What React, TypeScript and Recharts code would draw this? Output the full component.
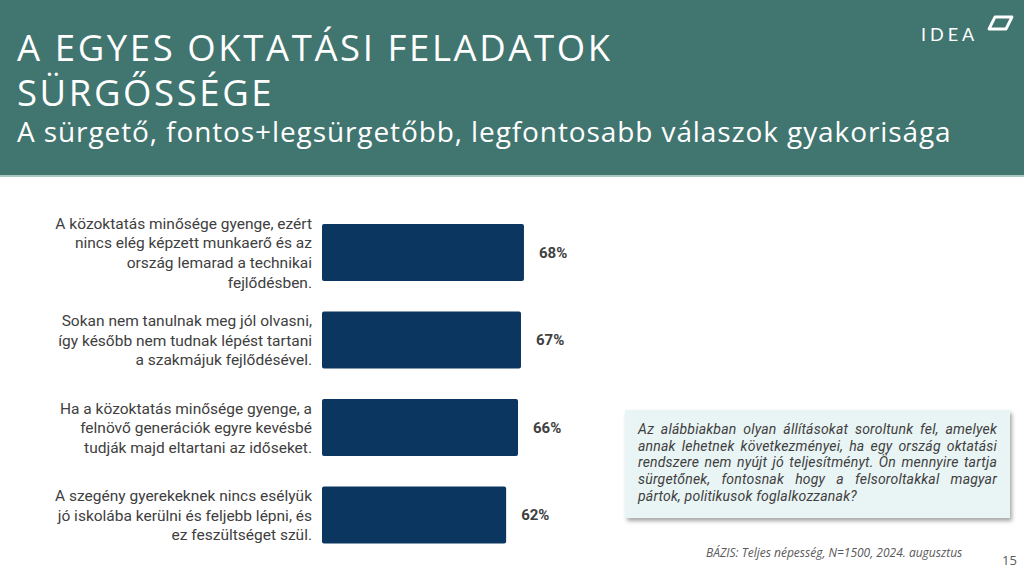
import React from 'react';
import { BarChart, Bar, XAxis, YAxis, LabelList } from 'recharts';

const categories = [
  'A közoktatás minősége gyenge, ezért\nnincs elég képzett munkaerő és az\nország lemarad a technikai\nfejlődésben.',
  'Sokan nem tanulnak meg jól olvasni,\nígy később nem tudnak lépést tartani\na szakmájuk fejlődésével.',
  'Ha a közoktatás minősége gyenge, a\nfelnövő generációk egyre kevésbé\ntudják majd eltartani az időseket.',
  'A szegény gyerekeknek nincs esélyük\njó iskolába kerülni és feljebb lépni, és\nez feszültséget szül.',
];
const values = [68, 67, 66, 62];

const TITLE_LINES = ['A EGYES OKTATÁSI FELADATOK', 'SÜRGŐSSÉGE'];
const SUBTITLE = 'A sürgető, fontos+legsürgetőbb, legfontosabb válaszok gyakorisága';
const QUESTION =
  'Az alábbiakban olyan állításokat soroltunk fel, amelyek annak lehetnek következményei, ha egy ország oktatási rendszere nem nyújt jó teljesítményt. Ön mennyire tartja sürgetőnek, fontosnak hogy a felsoroltakkal magyar pártok, politikusok foglalkozzanak?';
const SOURCE = 'BÁZIS: Teljes népesség, N=1500, 2024. augusztus';
const PAGE = '15';

const data = categories.map((c, i) => ({ name: c, value: values[i] }));

const TEAL = '#41756f';
const NAVY = '#0b365f';
const TEXT = '#404040';

function MultiLineTick(props: any) {
  const { x, y, payload } = props;
  const lines: string[] = String(payload.value).split('\n');
  const lh = 19.7;
  const start = -((lines.length - 1) * lh) / 2;
  return (
    <text
      x={x}
      y={y}
      textAnchor="end"
      fill={TEXT}
      fontSize={15.5}
      fontFamily="Roboto, sans-serif"
    >
      {lines.map((l, i) => (
        <tspan key={i} x={x} dy={i === 0 ? start + 5.5 : lh}>
          {l}
        </tspan>
      ))}
    </text>
  );
}

export default function App() {
  return (
    <div
      style={{
        position: 'fixed',
        left: 0,
        top: 0,
        width: 1024,
        height: 576,
        background: '#ffffff',
        overflow: 'hidden',
        fontFamily: '"Open Sans", sans-serif',
      }}
    >
      {/* header band */}
      <div
        style={{
          position: 'absolute',
          left: 0,
          top: 0,
          width: 1024,
          height: 175,
          background: TEAL,
          borderBottom: '2px solid #a9c8c4',
        }}
      />
      {TITLE_LINES.map((t, i) => (
        <div
          key={t}
          style={{
            position: 'absolute',
            left: 17,
            top: 27 + i * 45,
            color: '#ffffff',
            fontSize: 36.5,
            lineHeight: '40px',
            height: 40,
            letterSpacing: 2.6,
            fontWeight: 400,
            whiteSpace: 'nowrap',
          }}
        >
          {t}
        </div>
      ))}
      <div
        style={{
          position: 'absolute',
          left: 17,
          top: 111,
          color: '#ffffff',
          fontSize: 28,
          lineHeight: '40px',
          letterSpacing: 0.9,
          whiteSpace: 'nowrap',
        }}
      >
        {SUBTITLE}
      </div>

      {/* logo */}
      <div
        style={{
          position: 'absolute',
          left: 921,
          top: 22,
          color: '#ffffff',
          fontSize: 18,
          lineHeight: '24px',
          letterSpacing: 4,
          fontWeight: 400,
          fontFamily: 'Lato, sans-serif',
        }}
      >
        IDEA
      </div>
      <svg style={{ position: 'absolute', left: 984, top: 14 }} width={32} height={20}>
        <path
          d="M11 3 L28 3 L22 15 L5 15 Z"
          fill="none"
          stroke="#ffffff"
          strokeWidth={2.8}
          strokeLinejoin="round"
        />
      </svg>

      {/* chart */}
      <div style={{ position: 'absolute', left: 0, top: 0 }}>
        <BarChart
          width={700}
          height={576}
          data={data}
          layout="vertical"
          margin={{ top: 209, right: 81, bottom: 17, left: 0 }}
          barSize={57}
        >
          <XAxis type="number" domain={[0, 100]} hide />
          <YAxis
            type="category"
            dataKey="name"
            width={322}
            axisLine={false}
            tickLine={false}
            tickSize={0}
            tickMargin={10}
            tick={<MultiLineTick />}
            interval={0}
          />
          <Bar dataKey="value" fill={NAVY} radius={2} isAnimationActive={false}>
            <LabelList
              dataKey="value"
              position="right"
              offset={15}
              formatter={(v: any) => `${v}%`}
              fill={TEXT}
              fontSize={15}
              fontWeight={700}
              fontFamily="Roboto, sans-serif"
            />
          </Bar>
        </BarChart>
      </div>

      {/* question box */}
      <div
        style={{
          position: 'absolute',
          left: 625,
          top: 410,
          width: 385,
          height: 108,
          boxSizing: 'border-box',
          background: '#e9f4f4',
          boxShadow: '2px 3px 4px rgba(0,0,0,0.35)',
          padding: '11px 13px 0 13px',
          fontFamily: 'Roboto, sans-serif',
          fontStyle: 'italic',
          fontSize: 14,
          lineHeight: '16.7px',
          letterSpacing: 0.2,
          color: TEXT,
          textAlign: 'justify',
        }}
      >
        {QUESTION}
      </div>

      {/* footer */}
      <div
        style={{
          position: 'absolute',
          left: 706,
          top: 544,
          fontSize: 12,
          fontStyle: 'italic',
          color: '#595959',
          whiteSpace: 'nowrap',
        }}
      >
        {SOURCE}
      </div>
      <div
        style={{
          position: 'absolute',
          left: 1002,
          top: 551,
          fontSize: 13,
          color: '#595959',
        }}
      >
        {PAGE}
      </div>
    </div>
  );
}
